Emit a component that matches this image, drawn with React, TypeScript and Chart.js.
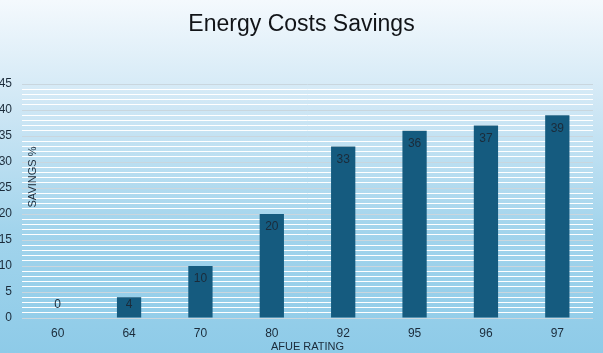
import React, { useEffect, useRef } from "react";
import { Chart, registerables } from "chart.js";

Chart.register(...registerables);

const categories = ["60", "64", "70", "80", "92", "95", "96", "97"];
const savings = [0, 4, 10, 20, 33, 36, 37, 39];
const yMax = 45;
const titleText = "Energy Costs Savings";
const yTitle = "SAVINGS %";
const xTitle = "AFUE RATING";

const FONT = "'Liberation Sans', Arial, sans-serif";
const TEXT = "#1b2b3a";

const bgPlugin = {
  id: "bg",
  beforeDraw(chart: any) {
    const { ctx, width, height } = chart;
    const g = ctx.createLinearGradient(0, 0, 0, height);
    g.addColorStop(0, "#f4f9fd");
    g.addColorStop(0.3, "#cfe7f5");
    g.addColorStop(0.65, "#a2d4ec");
    g.addColorStop(1, "#8ecbe8");
    ctx.save();
    ctx.fillStyle = g;
    ctx.fillRect(0, 0, width, height);
    ctx.restore();
  },
};

const textPlugin = {
  id: "texts",
  afterDraw(chart: any) {
    const { ctx, chartArea, width } = chart;
    ctx.save();
    // title
    ctx.fillStyle = "#111418";
    ctx.font = `23px ${FONT}`;
    ctx.textAlign = "center";
    ctx.textBaseline = "middle";
    ctx.fillText(titleText, width / 2, 25);
    // x title
    ctx.fillStyle = TEXT;
    ctx.font = `11px ${FONT}`;
    ctx.fillText(xTitle, (chartArea.left + chartArea.right) / 2, 347);
    // y title
    ctx.save();
    ctx.translate(chartArea.left + 11, 177);
    ctx.rotate(-Math.PI / 2);
    ctx.fillText(yTitle, 0, 0);
    ctx.restore();
    // value labels
    const meta = chart.getDatasetMeta(0);
    ctx.font = `12px ${FONT}`;
    meta.data.forEach((bar: any, i: number) => {
      const y = Math.min(bar.y + 13, bar.base - 13);
      ctx.fillText(String(savings[i]), bar.x, y);
    });
    ctx.restore();
  },
};

export default function App() {
  const ref = useRef<HTMLCanvasElement>(null);
  useEffect(() => {
    if (!ref.current) return;
    const chart = new Chart(ref.current, {
      type: "bar",
      data: {
        labels: categories,
        datasets: [
          {
            data: savings,
            backgroundColor: "#155b7f",
            categoryPercentage: 1,
            barPercentage: 0.34,
          },
        ],
      },
      plugins: [bgPlugin, textPlugin],
      options: {
        responsive: false,
        animation: false,
        layout: { padding: { top: 84, right: 10, left: 0, bottom: 0 } },
        plugins: { legend: { display: false }, title: { display: false }, tooltip: { enabled: false } },
        scales: {
          x: {
            grid: { display: false, drawTicks: false },
            border: { display: false },
            ticks: { color: TEXT, font: { size: 12, family: FONT }, padding: 8 },
            afterFit: (s: any) => { s.height = 35; },
          },
          y: {
            min: 0,
            max: yMax,
            grid: {
              drawTicks: false,
              color: (c: any) => (c.tick && c.tick.value % 5 === 0 ? "#c9d6de" : "#ffffff"),
            },
            border: { display: false },
            ticks: {
              stepSize: 1,
              autoSkip: false,
              color: TEXT,
              font: { size: 12, family: FONT },
              padding: 10,
              callback: (v: any) => (Number(v) % 5 === 0 ? String(v) : ""),
            },
            afterFit: (s: any) => { s.width = 22; },
          },
        },
      },
    });
    return () => chart.destroy();
  }, []);
  return (
    <canvas
      ref={ref}
      width={603}
      height={353}
      style={{ position: "fixed", left: 0, top: 0, width: 603, height: 353 }}
    />
  );
}
